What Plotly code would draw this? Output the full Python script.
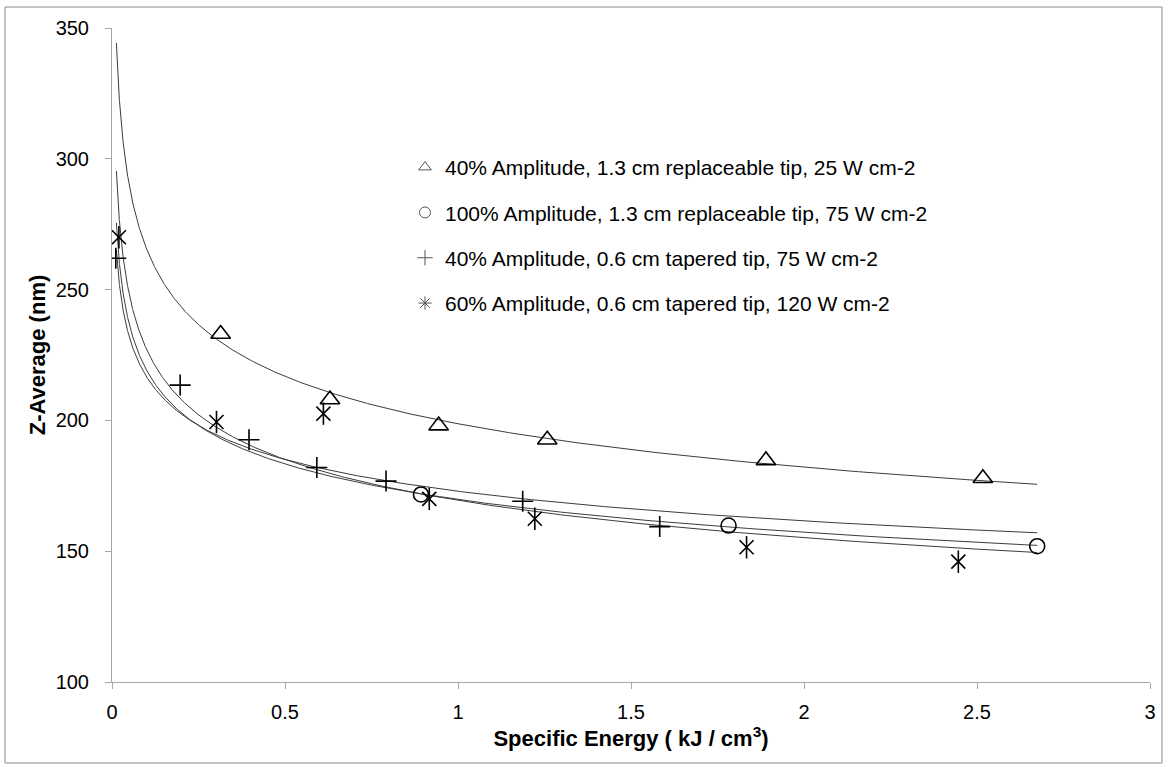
import numpy as np
import plotly.graph_objects as go

# ---------------- data ----------------
series_names = [
    "40% Amplitude, 1.3 cm replaceable tip, 25 W cm-2",
    "100% Amplitude, 1.3 cm replaceable tip, 75 W cm-2",
    "40% Amplitude, 0.6 cm tapered tip, 75 W cm-2",
    "60% Amplitude, 0.6 cm tapered tip, 120 W cm-2",
]

tri_x = [0.314, 0.630, 0.944, 1.258, 1.890, 2.517]
tri_y = [233.0, 208.0, 198.0, 192.6, 184.7, 177.9]

circ_x = [0.893, 1.782, 2.674]
circ_y = [171.7, 159.8, 151.9]

plus_x = [0.011, 0.197, 0.396, 0.592, 0.792, 1.187, 1.583]
plus_y = [262.0, 213.5, 192.6, 182.0, 176.8, 169.1, 159.4]

star_x = [0.020, 0.302, 0.611, 0.917, 1.222, 1.834, 2.446]
star_y = [270.0, 199.4, 202.6, 170.0, 162.4, 151.5, 146.0]

# x span over which the power trendlines are drawn
trend_range = [0.0127, 2.674]

x_ticks = [0, 0.5, 1, 1.5, 2, 2.5, 3]
y_ticks = [100, 150, 200, 250, 300, 350]

# ---------------- figure geometry ----------------
FIG_W, FIG_H = 1168, 767
L, R, T, B = 112, 18, 28, 85
PW = FIG_W - L - R
PH = FIG_H - T - B


def px_x(p):
    return (p - L) / PW


def px_y(p):
    return (FIG_H - B - p) / PH


FONT = "Arial, Liberation Sans, sans-serif"
LINE_COL = "#3c3c3c"
AX_COL = "#a6a6a6"


def power_fit(xs, ys):
    b, ln_a = np.polyfit(np.log(xs), np.log(ys), 1)
    xx = np.geomspace(trend_range[0], trend_range[1], 400)
    return xx, np.exp(ln_a) * xx ** b


fig = go.Figure()

# trendlines (power fits of each series)
for xs, ys in [(tri_x, tri_y), (circ_x, circ_y), (plus_x, plus_y), (star_x, star_y)]:
    fx, fy = power_fit(xs, ys)
    fig.add_trace(go.Scatter(x=fx, y=fy, mode="lines", showlegend=False,
                             line=dict(color=LINE_COL, width=1), hoverinfo="skip"))

MK_LW = 1.6
fig.add_trace(go.Scatter(x=tri_x, y=tri_y, mode="markers", showlegend=False,
                         marker=dict(symbol="triangle-up-open", size=17, color="black",
                                     line=dict(width=MK_LW, color="black"))))
fig.add_trace(go.Scatter(x=circ_x, y=circ_y, mode="markers", showlegend=False,
                         marker=dict(symbol="circle-open", size=15, color="black",
                                     line=dict(width=MK_LW, color="black"))))
fig.add_trace(go.Scatter(x=plus_x, y=plus_y, mode="markers", showlegend=False,
                         marker=dict(symbol="cross-thin-open", size=15, color="black",
                                     line=dict(width=MK_LW, color="black"))))
fig.add_trace(go.Scatter(x=star_x, y=star_y, mode="markers", showlegend=False,
                         marker=dict(symbol="x-thin-open", size=14, color="black",
                                     line=dict(width=MK_LW, color="black"))))
fig.add_trace(go.Scatter(x=star_x, y=star_y, mode="markers", showlegend=False,
                         marker=dict(symbol="line-ns-open", size=16, color="black",
                                     line=dict(width=MK_LW, color="black"))))

# legend entries
leg_syms = ["triangle-up-open", "circle-open", "cross-thin-open", "asterisk-open"]
for i, (name, sym) in enumerate(zip(series_names, leg_syms)):
    fig.add_trace(go.Scatter(x=[None], y=[None], mode="markers", name=name,
                             legendgroup=f"g{i}",
                             marker=dict(symbol=sym, size=11, color="#555555",
                                         line=dict(width=1, color="#555555"))))

fig.update_layout(
    width=FIG_W, height=FIG_H,
    margin=dict(l=L, r=R, t=T, b=B, pad=0),
    paper_bgcolor="white", plot_bgcolor="white",
    font=dict(family=FONT, size=20, color="black"),
    showlegend=True,
    legend=dict(x=px_x(405), y=px_y(147), xanchor="left", yanchor="top",
                bgcolor="rgba(0,0,0,0)", borderwidth=0,
                font=dict(family=FONT, size=21, color="black"),
                tracegroupgap=15, itemwidth=30),
    xaxis=dict(range=[0, 3], tickvals=x_ticks, ticktext=[f"{v:g}" for v in x_ticks],
               showgrid=False, zeroline=False, showline=True, linecolor=AX_COL,
               linewidth=1, ticks="outside", ticklen=6, tickcolor=AX_COL,
               ticklabelstandoff=6, tickfont=dict(family=FONT, size=20, color="black"),
               title=dict(text="<b>Specific Energy ( kJ / cm<sup>3</sup>)</b>",
                          font=dict(family=FONT, size=22), standoff=7)),
    yaxis=dict(range=[100, 350], tickvals=y_ticks,
               showgrid=False, zeroline=False, showline=True, linecolor=AX_COL,
               linewidth=1, ticks="outside", ticklen=6, tickcolor=AX_COL,
               ticklabelstandoff=12, tickfont=dict(family=FONT, size=20, color="black"),
               title=dict(text="<b>Z-Average (nm)</b>",
                          font=dict(family=FONT, size=22), standoff=3)),
    shapes=[dict(type="rect", xref="paper", yref="paper",
                 x0=px_x(5), x1=px_x(1162), y0=px_y(763), y1=px_y(7),
                 line=dict(color="#8c8c8c", width=1), fillcolor="rgba(0,0,0,0)",
                 layer="below")],
)

fig.write_html("out.html",
               config={"displayModeBar": False},
               post_script="document.body.style.margin='0px';"
                           "document.body.style.overflow='hidden';")
